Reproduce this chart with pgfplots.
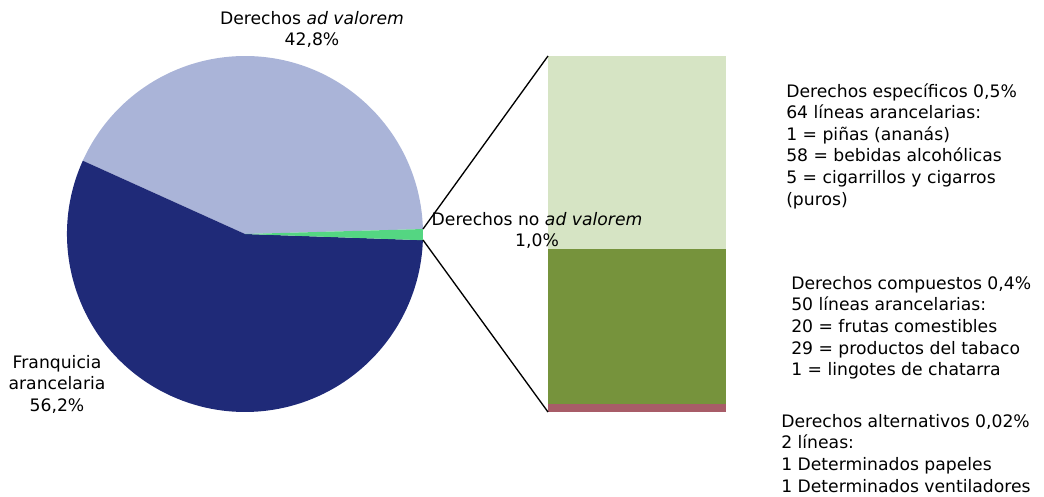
\documentclass[border=0pt]{standalone}
\usepackage{pgfplots}
\pgfplotsset{compat=1.18}
\usepackage{fontspec}
\setmainfont{DejaVu Sans}

\definecolor{adval}{RGB}{170,180,216}
\definecolor{franq}{RGB}{31,42,120}
\definecolor{noadval}{RGB}{84,214,130}
\definecolor{espec}{RGB}{214,228,196}
\definecolor{compu}{RGB}{118,147,60}
\definecolor{alter}{RGB}{168,92,104}

\begin{document}
\begin{tikzpicture}[every node/.style={font=\fontsize{12.9}{16.2}\selectfont, inner sep=0pt}]
% pie shares (%)
\def\pAdval{42.8}
\def\pFranq{56.2}
\def\pNoadval{1.0}
\def\pStart{1.6}
\pgfmathsetmacro\aA{\pStart}
\pgfmathsetmacro\aB{\aA+3.6*\pAdval}
\pgfmathsetmacro\aC{\aB+3.6*\pFranq}
\pgfmathsetmacro\aD{\aC+3.6*\pNoadval}
\def\R{133.5pt}

% stacked bar (breakdown of the non ad valorem share)
\begin{axis}[
    at={(411pt,63pt)}, anchor=south west,
    width=133.5pt, height=267pt, scale only axis,
    xmin=-0.5, xmax=0.5, ymin=0, ymax=0.92,
    ybar stacked, bar width=133.5pt,
    hide axis,
]
\addplot[fill=alter, draw=none] coordinates {(0,0.02)};
\addplot[fill=compu, draw=none] coordinates {(0,0.40)};
\addplot[fill=espec, draw=none] coordinates {(0,0.50)};
\end{axis}

\begin{axis}[
    name=main,
    at={(0,0)}, anchor=south west,
    width=783pt, height=372pt, scale only axis,
    xmin=0, xmax=1044, ymin=0, ymax=496, y dir=reverse,
    hide axis, clip=false,
]
\fill[adval] (axis cs:245,234) -- ++(\aA:\R) arc[start angle=\aA, end angle=\aB, radius=\R] -- cycle;
\fill[franq] (axis cs:245,234) -- ++(\aB:\R) arc[start angle=\aB, end angle=\aC, radius=\R] -- cycle;
\fill[noadval] (axis cs:245,234) -- ++(\aC:\R) arc[start angle=\aC, end angle=\aD, radius=\R] -- cycle;

\draw[black, line width=1pt] (axis cs:423,229) -- (axis cs:548,56);
\draw[black, line width=1pt] (axis cs:423,240) -- (axis cs:548,412);

\node[anchor=north, align=center] at (axis cs:312,11) {Derechos \textit{ad valorem}\\42,8\%};
\node[anchor=north, align=center] at (axis cs:57,355) {Franquicia\\arancelaria\\56,2\%};
\node[anchor=north, align=center] at (axis cs:537,212) {Derechos no \textit{ad valorem}\\1,0\%};

\node[anchor=north west, align=left] at (axis cs:786,83) {Derechos específicos 0,5\%\\64 líneas arancelarias:\\1 = piñas (ananás)\\58 = bebidas alcohólicas\\5 = cigarrillos y cigarros\\(puros)};
\node[anchor=north west, align=left] at (axis cs:791,276) {Derechos compuestos 0,4\%\\50 líneas arancelarias:\\20 = frutas comestibles\\29 = productos del tabaco\\1 = lingotes de chatarra};
\node[anchor=north west, align=left] at (axis cs:781,414) {Derechos alternativos 0,02\%\\2 líneas:\\1 Determinados papeles\\1 Determinados ventiladores};
\end{axis}

\path[use as bounding box] (0,0) rectangle (783pt,372pt);
\end{tikzpicture}
\end{document}
